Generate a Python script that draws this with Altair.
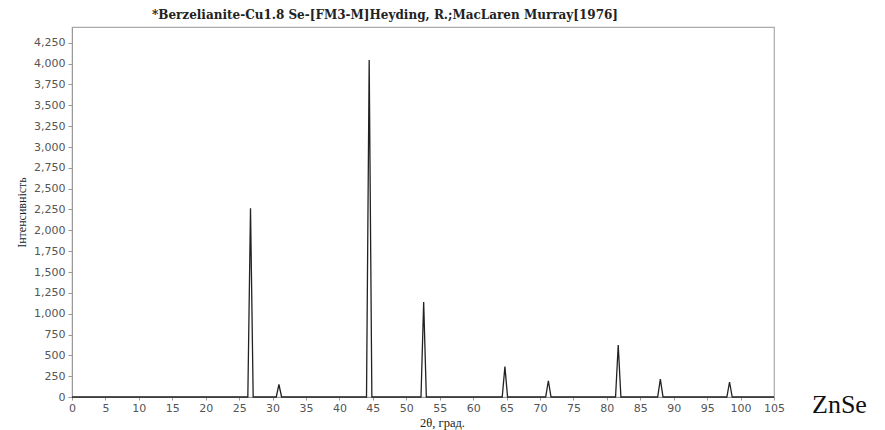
import altair as alt
import pandas as pd

# Peak data
peak_pos = [26.7, 30.95, 44.45, 52.6, 64.75, 71.25, 81.7, 88.0, 98.35]
peak_int = [2265, 150, 4045, 1140, 365, 195, 625, 215, 180]
half_width = 0.4

x_ticks = list(range(0, 110, 5))
y_ticks = list(range(0, 4500, 250))

rows = [{"x": 0.0, "y": 0.0}]
for p, h in zip(peak_pos, peak_int):
    rows.append({"x": p - half_width, "y": 0.0})
    rows.append({"x": p, "y": float(h)})
    rows.append({"x": p + half_width, "y": 0.0})
rows.append({"x": 105.0, "y": 0.0})
df = pd.DataFrame(rows)
df["order"] = range(len(df))

W, H = 702, 370

x_enc = alt.X("x:Q", scale=alt.Scale(domain=[0, 105], nice=False, zero=False),
              axis=alt.Axis(values=x_ticks, title="2θ, град.", grid=False,
                            labelFont="DejaVu Sans", labelFontSize=11, labelColor="#555",
                            titleFont="Liberation Serif", titleFontSize=12.5, titleFontWeight="normal",
                            titleColor="#222", tickSize=3, domainColor="#999", tickColor="#999",
                            labelPadding=2, titlePadding=3, titleX=370, titleAnchor="middle",
                            labelFlush=False))
y_enc = alt.Y("y:Q", scale=alt.Scale(domain=[0, 4440], nice=False),
              axis=alt.Axis(values=y_ticks, format=",.0f", title="Інтенсивність", grid=False,
                            labelFont="DejaVu Sans", labelFontSize=11, labelColor="#555",
                            titleFont="Liberation Serif", titleFontSize=12, titleFontWeight="normal",
                            titleColor="#222", tickSize=4, domainColor="#999", tickColor="#999",
                            labelPadding=3, titlePadding=5))

line = alt.Chart(df).mark_line(color="#222", strokeWidth=1.3).encode(
    x=x_enc, y=y_enc, order="order:Q")

label_df = pd.DataFrame({"t": ["ZnSe"]})
znse = alt.Chart(label_df).mark_text(
    font="Liberation Serif", fontSize=26, color="#111", align="left", baseline="alphabetic"
).encode(x=alt.value(W + 38), y=alt.value(H + 16), text="t:N")

chart = alt.layer(line, znse).properties(
    width=W, height=H,
    title=alt.TitleParams("*Berzelianite-Cu1.8 Se-[FM3-M]Heyding, R.;MacLaren Murray[1976]",
                          anchor="middle", offset=5, dx=-38),
    autosize=alt.AutoSizeParams(type="none"),
    padding={"left": 64, "top": 19, "right": 102, "bottom": 34},
).configure_view(stroke="#aaa", strokeWidth=1.2).configure_title(
    font="DejaVu Serif", fontSize=12, fontWeight="bold", color="#222"
)

chart.save("out.html", embed_options={"renderer": "svg", "actions": False})
